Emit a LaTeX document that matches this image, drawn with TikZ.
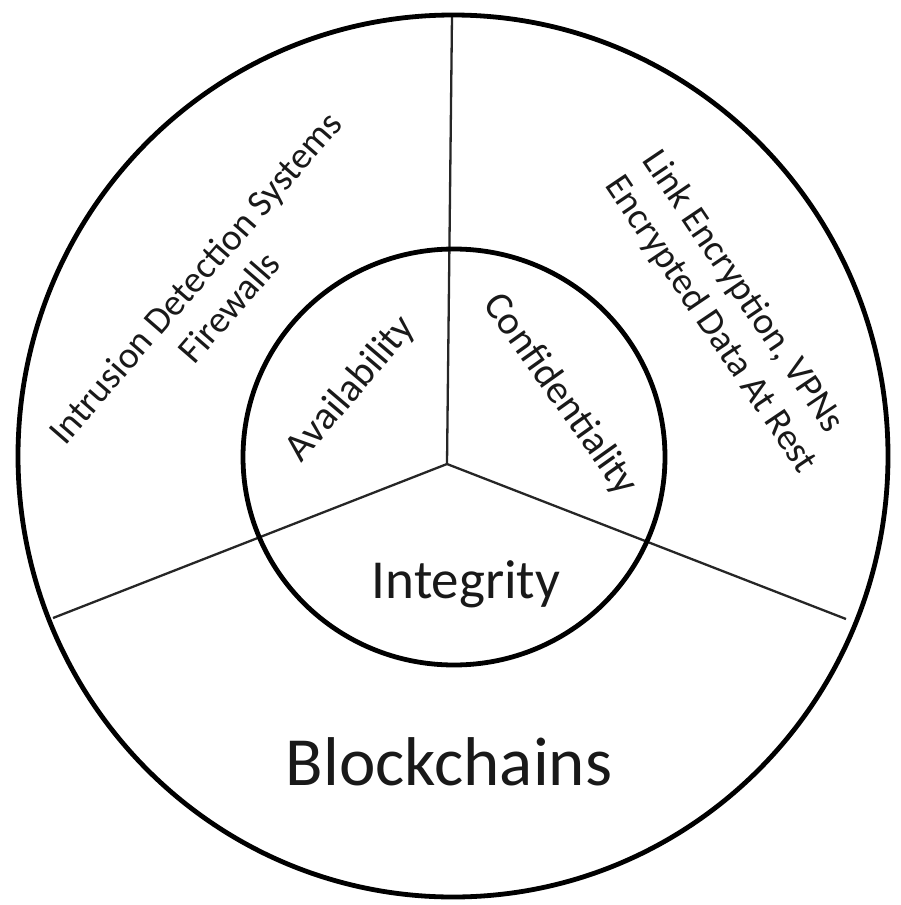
\documentclass[tikz,border=0pt]{standalone}
\usepackage{fontspec}
\setmainfont{Carlito}
\begin{document}
\begin{tikzpicture}[x=1pt,y=-1pt,
  ring/.style={draw=black,line width=4.8pt},
  spoke/.style={draw=black!85,line width=2.3pt},
  lbl/.style={text=black!90,inner sep=0pt,font=\fontsize{40}{48}\selectfont},
  outerlbl/.style={text=black!90,inner sep=0pt,font=\fontsize{37.5}{45}\selectfont}]
\useasboundingbox (0,0) rectangle (900,905);
% spokes
\coordinate (c) at (447,464);
\coordinate (t) at (452,16);
\coordinate (l) at (53,618);
\coordinate (r) at (846,619);
\draw[spoke] (c) -- (t);
\draw[spoke] (c) -- (l);
\draw[spoke] (c) -- (r);
% circles
\draw[ring] (453,456) ellipse [x radius=435, y radius=441];
\draw[ring] (454,457) ellipse [x radius=211, y radius=208];
% inner labels
\node[lbl,rotate=49.5] (avail) at (351,389) {Availability};
\node[lbl,rotate=-54.5] (conf) at (560,395) {Confidentiality};
\node[lbl,anchor=base,font=\fontsize{55}{62}\selectfont] (integ) at (466,598) {Integrity};
% outer labels
\node[outerlbl,rotate=49,align=center] (ids) at (212,292) {Intrusion Detection Systems\\Firewalls};
\node[outerlbl,rotate=-56,align=left] (enc) at (729,312) {Link Encryption, VPNs\\Encrypted Data At Rest};
\node[lbl,anchor=base,font=\fontsize{69}{76}\selectfont] (block) at (449,785) {Blockchains};
\end{tikzpicture}
\end{document}
